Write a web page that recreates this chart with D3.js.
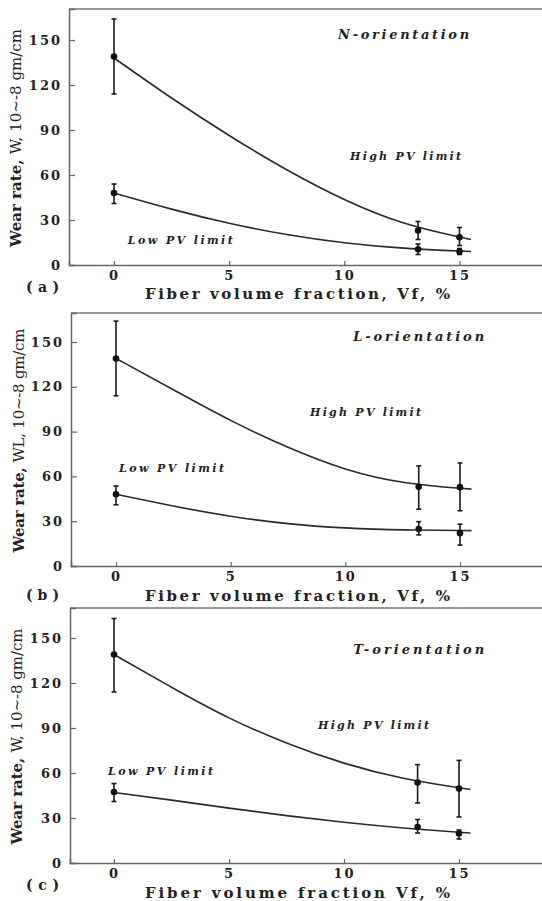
<!DOCTYPE html>
<html>
<head>
<meta charset="utf-8">
<style>
  body { margin: 0; background: #fff; }
  svg { display: block; }
  text { font-family: "DejaVu Serif", "Liberation Serif", serif; fill: #222; }
</style>
</head>
<body>
<svg id="fig"></svg>
<script src="https://cdn.jsdelivr.net/npm/d3@7"></script>
<script>
// ---- data ----
var vf = [0, 13.2, 15];                       // measured fibre volume fractions
var fitX = [0, 2.5, 5, 7.5, 10, 12.5, 15.5];  // where the fitted curves were read
var xTicks = [0, 5, 10, 15];
var yTicks = [0, 30, 60, 90, 120, 150];

// (a) N-orientation
var aHigh = [139, 23, 18.5], aHighLo = [114, 17, 13], aHighHi = [164, 29, 25];
var aLow = [48, 10.5, 9],    aLowLo = [41, 7, 7],     aLowHi = [54, 14, 11];
var aHighFit = [138, 111, 86, 63, 43, 27, 17];
var aLowFit = [48, 37, 27.5, 20, 14.5, 11, 9];

// (b) L-orientation
var bHigh = [139, 53, 52.8], bHighLo = [114, 38, 37], bHighHi = [164, 67, 69];
var bLow = [48, 24.8, 22],   bLowLo = [41, 20.8, 14], bLowHi = [53.6, 29.7, 28];
var bHighFit = [139, 118, 97, 79, 64, 55, 51.5];
var bLowFit = [48, 40, 33, 28, 25.3, 24, 23.7];

// (c) T-orientation
var cHigh = [139, 53.6, 49.6], cHighLo = [114, 40, 30.7], cHighHi = [163, 65.6, 68.4];
var cLow = [47.3, 24, 19.6],   cLowLo = [41, 20, 16],     cLowHi = [53, 29, 22];
var cHighFit = [139, 117, 96, 79.5, 66, 56, 49];
var cLowFit = [47, 42, 36.5, 31.5, 27, 23.3, 20];

var W = 542, H = 901;
var svg = d3.select("#fig").attr("width", W).attr("height", H);

// one panel per orientation; pixel frame of each panel
var panels = [
  {tag: "(a)", orient: "N-orientation", ylab: "W,", xlab: "Fiber volume fraction, Vf, %",
   high: aHigh, highLo: aHighLo, highHi: aHighHi, low: aLow, lowLo: aLowLo, lowHi: aLowHi,
   highFit: aHighFit, lowFit: aLowFit,
   left: 69, top: 9, x0: 114, x15: 459.5, y0: 265, y150: 40,
   orientAt: [9.73, 150.7], highAt: [10.25, 70], lowAt: [0.6, 14],
   tagY: 292, titleY: 299, ytitleX: 17, ytitleLen: 218},
  {tag: "(b)", orient: "L-orientation", ylab: "WL,", xlab: "Fiber volume fraction, Vf, %",
   high: bHigh, highLo: bHighLo, highHi: bHighHi, low: bLow, lowLo: bLowLo, lowHi: bLowHi,
   highFit: bHighFit, lowFit: bLowFit,
   left: 71, top: 313, x0: 116, x15: 460, y0: 566, y150: 342,
   orientAt: [10.34, 150.7], highAt: [8.46, 100.5], lowAt: [0.13, 63],
   tagY: 600, titleY: 601, ytitleX: 20, ytitleLen: 224},
  {tag: "(c)", orient: "T-orientation", ylab: "W,", xlab: "Fiber volume fraction Vf, %",
   high: cHigh, highLo: cHighLo, highHi: cHighHi, low: cLow, lowLo: cLowLo, lowHi: cLowHi,
   highFit: cHighFit, lowFit: cLowFit,
   left: 70, top: 608, x0: 114, x15: 459, y0: 863, y150: 638,
   orientAt: [10.4, 139.3], highAt: [8.87, 89.3], lowAt: [-0.26, 58.7],
   tagY: 890, titleY: 898, ytitleX: 18, ytitleLen: 216}
];

panels.forEach(function(p) {
  var kx = (p.x15 - p.x0) / 15, ky = (p.y0 - p.y150) / 150;
  var right = 545;
  var x = d3.scaleLinear().domain([(p.left - p.x0) / kx, (right - p.x0) / kx]).range([p.left, right]);
  var y = d3.scaleLinear().domain([0, (p.y0 - p.top) / ky]).range([p.y0, p.top]);
  var g = svg.append("g");

  // frame (top line)
  g.append("line").attr("x1", p.left).attr("x2", right).attr("y1", p.top).attr("y2", p.top)
    .attr("stroke", "#777").attr("stroke-width", 1.4);

  var xAxis = d3.axisBottom(x).tickValues(xTicks).tickSize(-4).tickPadding(6).tickFormat(d3.format("d"));
  var yAxis = d3.axisLeft(y).tickValues(yTicks).tickSize(-6).tickPadding(7).tickFormat(d3.format("d"));
  var gx = g.append("g").attr("transform", "translate(0," + p.y0 + ")").call(xAxis);
  var gy = g.append("g").attr("transform", "translate(" + p.left + ",0)").call(yAxis);
  [gx, gy].forEach(function(a) {
    a.select(".domain").attr("stroke", "#666").attr("stroke-width", 1.5);
    a.selectAll(".tick line").attr("stroke", "#666").attr("stroke-width", 1.2);
    a.selectAll(".tick text").attr("font-size", 13).attr("font-weight", "bold")
      .attr("fill", "#333").attr("letter-spacing", 2)
      .style("font-family", "'DejaVu Serif', serif");
  });

  // fitted curves
  var line = d3.line().curve(d3.curveBasis)
    .x(function(d) { return x(d[0]); }).y(function(d) { return y(d[1]); });
  [p.highFit, p.lowFit].forEach(function(f) {
    g.append("path").attr("d", line(d3.zip(fitX, f)))
      .attr("fill", "none").attr("stroke", "#2a2a2a").attr("stroke-width", 1.6);
  });

  // error bars and points
  [[p.high, p.highLo, p.highHi], [p.low, p.lowLo, p.lowHi]].forEach(function(s) {
    vf.forEach(function(v, i) {
      var cx = x(v);
      g.append("line").attr("x1", cx).attr("x2", cx).attr("y1", y(s[1][i])).attr("y2", y(s[2][i]))
        .attr("stroke", "#1a1a1a").attr("stroke-width", 1.6);
      [s[1][i], s[2][i]].forEach(function(e) {
        g.append("line").attr("x1", cx - 2.5).attr("x2", cx + 2.5).attr("y1", y(e)).attr("y2", y(e))
          .attr("stroke", "#1a1a1a").attr("stroke-width", 1.6);
      });
      g.append("circle").attr("cx", cx).attr("cy", y(s[0][i])).attr("r", 3.3).attr("fill", "#111");
    });
  });

  // annotations
  g.append("text").attr("x", x(p.orientAt[0])).attr("y", y(p.orientAt[1]))
    .attr("font-size", 13).attr("font-style", "italic").attr("font-weight", "bold")
    .attr("fill", "#333").attr("textLength", 131).attr("lengthAdjust", "spacing")
    .text(p.orient);
  g.append("text").attr("x", x(p.highAt[0])).attr("y", y(p.highAt[1]))
    .attr("font-size", 11).attr("font-style", "italic").attr("font-weight", "bold")
    .attr("fill", "#333").attr("textLength", 111).attr("lengthAdjust", "spacing")
    .text("High PV limit");
  g.append("text").attr("x", x(p.lowAt[0])).attr("y", y(p.lowAt[1]))
    .attr("font-size", 11).attr("font-style", "italic").attr("font-weight", "bold")
    .attr("fill", "#333").attr("textLength", 105).attr("lengthAdjust", "spacing")
    .text("Low PV limit");

  // panel tag and axis titles
  g.append("text").attr("x", 26).attr("y", p.tagY).attr("font-size", 14)
    .attr("font-weight", "bold").attr("textLength", 33).attr("lengthAdjust", "spacing")
    .text(p.tag);
  g.append("text").attr("x", 145).attr("y", p.titleY).attr("font-size", 15)
    .attr("font-weight", "bold").attr("textLength", 305).attr("lengthAdjust", "spacing")
    .text(p.xlab);
  var yt = g.append("text")
    .attr("transform", "translate(" + p.ytitleX + "," + ((p.y0 + p.top) / 2 + 1) + ") rotate(-90)")
    .attr("text-anchor", "middle").attr("dominant-baseline", "middle")
    .attr("font-size", 15).attr("textLength", p.ytitleLen).attr("lengthAdjust", "spacing");
  yt.append("tspan").attr("font-weight", "bold").text("Wear rate, ");
  yt.append("tspan").text(p.ylab + " 10~-8 gm/cm");
});
</script>
</body>
</html>
